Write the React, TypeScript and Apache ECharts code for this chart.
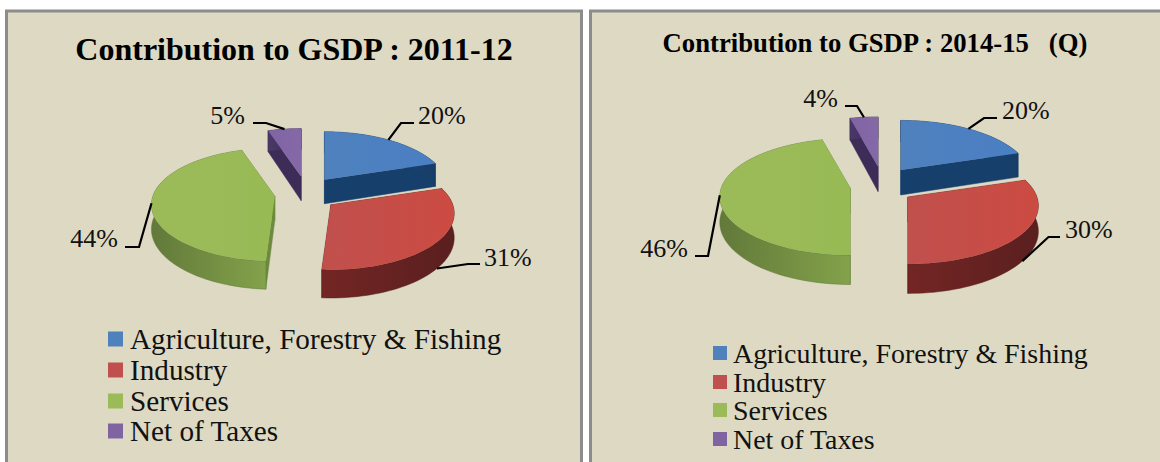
import React, { useEffect, useRef } from "react";
import * as echarts from "echarts";

const categories = ["Agriculture, Forestry & Fishing", "Industry", "Services", "Net of Taxes"];
const shares2011 = [20, 31, 44, 5];
const shares2015 = [20, 30, 46, 4];
const titleLeft = "Contribution to GSDP : 2011-12";
const titleRight = "Contribution to GSDP : 2014-15   (Q)";

const FONT = '"Liberation Serif", "Times New Roman", serif';
const topColors = ["#4F81BD", "#C0504D", "#9BBB59", "#8064A2"];
const topColorsEnd = ["#4A7FC4", "#CC4B42", "#98BA55", "#8468A8"];
const wallColors = [["#1F4E80", "#173D68"], ["#732624", "#5A1F1F"], ["#83A24A", "#62793A"], ["#4A3869", "#3A2B55"]];
const cutColors = ["#173F6C", "#6A2321", "#6E8A3E", "#3C2C57"];

type Geom = {
  cx: number; cy: number; rx: number; ry: number; k: number; h: number; ex: number; ey: number;
  labels: { tx: number; ty: number; elbow: [number, number]; end: [number, number]; onWall?: boolean; align: string }[];
};

const geomLeft: Geom = {
  cx: 306, cy: 194, rx: 122, ry: 55.2, k: 0.15, h: 24, ex: 31.4, ey: 17.6,
  labels: [
    { tx: 418, ty: 115, elbow: [401, 123], end: [414, 123], align: "left" },
    { tx: 484, ty: 257, elbow: [468, 264], end: [480, 264], onWall: true, align: "left" },
    { tx: 118, ty: 238, elbow: [139, 247], end: [125, 247], align: "right" },
    { tx: 245, ty: 115, elbow: [266, 123], end: [253, 123], align: "right" },
  ],
};
const geomRight: Geom = {
  cx: 882, cy: 185.6, rx: 129, ry: 57, k: 0.15, h: 25, ex: 32, ey: 19.3,
  labels: [
    { tx: 1002, ty: 110, elbow: [984, 118], end: [997, 118], align: "left" },
    { tx: 1065, ty: 229, elbow: [1048.5, 237], end: [1060, 237], onWall: true, align: "left" },
    { tx: 688, ty: 248, elbow: [708, 256], end: [695, 256], align: "right" },
    { tx: 838, ty: 98, elbow: [857, 106], end: [845, 106], align: "right" },
  ],
};

const rad = (d: number) => (d * Math.PI) / 180;

function makeRenderItem(shares: number[], g: Geom) {
  const total = shares.reduce((a, b) => a + b, 0);
  return (params: any, api: any) => {
    const i = params.dataIndex;
    const v = api.value(0);
    const before = shares.slice(0, i).reduce((a, b) => a + b, 0);
    const a0 = (before / total) * 360;
    const a1 = ((before + v) / total) * 360;
    const mid = (a0 + a1) / 2;
    const ox = g.cx + g.ex * Math.sin(rad(mid));
    const oy = g.cy - g.ey * Math.cos(rad(mid));
    const proj = (deg: number, drop: boolean): number[] => {
      const c = Math.sin(rad(deg));
      const s = -Math.cos(rad(deg));
      const d = 1 - g.k * s;
      return [ox + (g.rx * c) / d, oy + (g.ry * s) / d + (drop ? g.h / d : 0)];
    };
    const topArc: number[][] = [];
    const botArc: number[][] = [];
    const n = Math.max(2, Math.ceil((a1 - a0) / 2));
    for (let j = 0; j <= n; j++) {
      const a = a0 + ((a1 - a0) * j) / n;
      topArc.push(proj(a, false));
      botArc.push(proj(a, true));
    }
    const apexTop = [ox, oy];
    const apexBot = [ox, oy + g.h];
    const cut = (p: number[], q: number[]) => ({
      type: "polygon",
      shape: { points: [apexTop, p, q, apexBot] },
      style: { fill: cutColors[i], stroke: cutColors[i], lineWidth: 0.5 },
      silent: true,
    });
    const wall = {
      type: "polygon",
      shape: { points: [...topArc, ...botArc.slice().reverse()] },
      style: {
        fill: new echarts.graphic.LinearGradient(0, 0, 1, 0, [
          { offset: 0, color: wallColors[i][i === 2 ? 1 : 0] },
          { offset: 1, color: wallColors[i][i === 2 ? 0 : 1] },
        ]),
        stroke: wallColors[i][1],
        lineWidth: 0.5,
      },
      silent: true,
    };
    const top = {
      type: "polygon",
      shape: { points: [apexTop, ...topArc] },
      style: {
        fill: new echarts.graphic.LinearGradient(0, 0, 1, 0, [
          { offset: 0, color: topColors[i] },
          { offset: 1, color: topColorsEnd[i] },
        ]),
      },
      silent: true,
    };
    const lab = g.labels[i];
    const anchor = proj(mid, !!lab.onWall);
    const leader = {
      type: "polyline",
      shape: { points: [anchor, lab.elbow, lab.end] },
      style: { stroke: "#000", lineWidth: 2.2, fill: "none" },
      silent: true,
    };
    const text = {
      type: "text",
      style: {
        text: `${v}%`, x: lab.tx, y: lab.ty, font: `26px ${FONT}`, fill: "#111",
        align: lab.align, verticalAlign: "middle",
      },
      silent: true,
    };
    return {
      type: "group",
      children: [
        cut(topArc[0], botArc[0]),
        cut(topArc[n], botArc[n]),
        wall,
        top,
        leader,
        text,
      ],
    };
  };
}

function legendElements(x: number, textX: number, ys: number[], size: number, fontSize: number) {
  const out: any[] = [];
  categories.forEach((name, i) => {
    out.push({ type: "rect", shape: { x, y: ys[i] - size / 2, width: size, height: size }, style: { fill: topColors[i] } });
    out.push({
      type: "text",
      style: { text: name, x: textX, y: ys[i], font: `${fontSize}px ${FONT}`, fill: "#111", align: "left", verticalAlign: "middle" },
    });
  });
  return out;
}

export default function App() {
  const ref = useRef<HTMLDivElement>(null);
  useEffect(() => {
    const chart = echarts.init(ref.current!, undefined, { renderer: "svg" });
    const panel = (x: number, w: number) => ({
      type: "rect",
      shape: { x, y: 11, width: w, height: 480 },
      style: { fill: "#DDD9C3", stroke: "#8C8C8C", lineWidth: 3 },
    });
    chart.setOption({
      animation: false,
      backgroundColor: "#fff",
      graphic: {
        elements: [
          panel(6.5, 575),
          panel(590.5, 600),
          { type: "text", style: { text: titleLeft, x: 294, y: 49, font: `bold 32px ${FONT}`, fill: "#000", align: "center", verticalAlign: "middle" } },
          { type: "text", style: { text: titleRight, x: 875, y: 43, font: `bold 26.7px ${FONT}`, fill: "#000", align: "center", verticalAlign: "middle" } },
          ...legendElements(108, 130, [339, 370, 401, 431], 15, 29.2),
          ...legendElements(713, 733, [353, 382, 410, 439], 14, 27.9),
        ],
      },
      series: [
        {
          type: "custom", coordinateSystem: "none", clip: false, silent: true,
          renderItem: makeRenderItem(shares2011, geomLeft),
          data: shares2011.map((value, i) => ({ name: categories[i], value: [value] })),
        },
        {
          type: "custom", coordinateSystem: "none", clip: false, silent: true,
          renderItem: makeRenderItem(shares2015, geomRight),
          data: shares2015.map((value, i) => ({ name: categories[i], value: [value] })),
        },
      ],
    });
    return () => chart.dispose();
  }, []);
  return <div ref={ref} style={{ position: "absolute", left: 0, top: 0, width: 1160, height: 462 }} />;
}
